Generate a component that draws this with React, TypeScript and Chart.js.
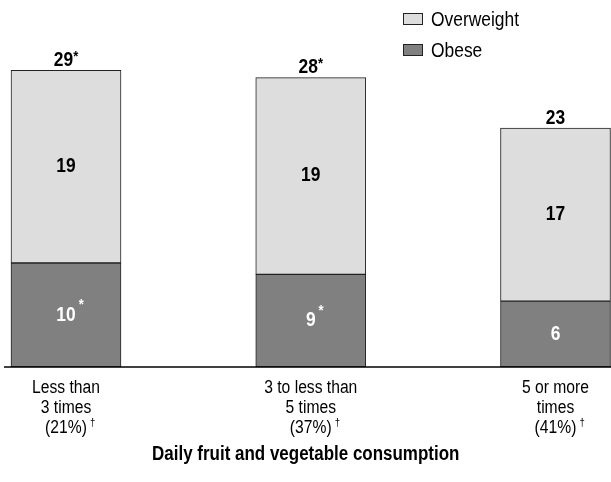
import React, { useEffect, useRef } from "react";
import { Chart, registerables } from "chart.js";

Chart.register(...registerables);

const categories = ["Less than 3 times", "3 to less than 5 times", "5 or more times"];
const tickLines = [
  ["Less than", "3 times"],
  ["3 to less than", "5 times"],
  ["5 or more", "times"],
];
const sharePct = ["(21%)", "(37%)", "(41%)"];
const obese = [10.1, 9.0, 6.4];
const overweight = [18.7, 19.1, 16.8];
const obeseLabels = ["10", "9", "6"];
const obeseMarks = ["*", "*", ""];
const overweightLabels = ["19", "19", "17"];
const totalLabels = ["29", "28", "23"];
const totalMarks = ["*", "*", ""];
const seriesNames = ["Overweight", "Obese"];
const xTitle = "Daily fruit and vegetable consumption";

const FONT = "'Liberation Sans', Arial, sans-serif";
const SX = 0.87;
const LIGHT = "#dddddd";
const DARK = "#808080";
const EDGE = "#222222";

function font(size: number, bold: boolean) {
  return `${bold ? "bold " : ""}${size}px ${FONT}`;
}
function measure(ctx: CanvasRenderingContext2D, s: string, size: number, bold: boolean) {
  ctx.save();
  ctx.font = font(size, bold);
  const w = ctx.measureText(s).width * SX;
  ctx.restore();
  return w;
}
function txt(
  ctx: CanvasRenderingContext2D,
  s: string,
  x: number,
  y: number,
  size: number,
  bold: boolean,
  align: CanvasTextAlign,
  color: string
) {
  ctx.save();
  ctx.translate(x, y);
  ctx.scale(SX, 1);
  ctx.font = font(size, bold);
  ctx.textAlign = align;
  ctx.textBaseline = "middle";
  ctx.fillStyle = color;
  ctx.fillText(s, 0, 0);
  ctx.restore();
}

const drawPlugin = {
  id: "customDraw",
  afterDatasetsDraw(chart: any) {
    const ctx = chart.ctx as CanvasRenderingContext2D;
    const x = chart.scales.x;
    const y = chart.scales.y;
    const base = y.getPixelForValue(0);
    ctx.save();
    // baseline
    ctx.strokeStyle = "#000";
    ctx.lineWidth = 1.5;
    ctx.beginPath();
    ctx.moveTo(4, base);
    ctx.lineTo(611, base);
    ctx.stroke();

    const obeseMeta = chart.getDatasetMeta(1);
    const owMeta = chart.getDatasetMeta(0);
    const VS = 20;
    for (let i = 0; i < categories.length; i++) {
      const ob = obeseMeta.data[i];
      const ow = owMeta.data[i];
      // obese value
      const oy = (ob.y + ob.base) / 2;
      txt(ctx, obeseLabels[i], ob.x, oy, VS, true, "center", "#ffffff");
      if (obeseMarks[i]) {
        const w = measure(ctx, obeseLabels[i], VS, true);
        txt(ctx, obeseMarks[i], ob.x + w / 2 + 3, oy - 10, 15, true, "left", "#ffffff");
      }
      // overweight value
      txt(ctx, overweightLabels[i], ow.x, (ow.y + ow.base) / 2, VS, true, "center", "#000000");
      // total
      const tw = measure(ctx, totalLabels[i], VS, true);
      const mw = totalMarks[i] ? measure(ctx, totalMarks[i], 15, true) : 0;
      const startX = ow.x - (tw + mw) / 2;
      txt(ctx, totalLabels[i], startX, ow.y - 10, VS, true, "left", "#000");
      if (totalMarks[i]) {
        txt(ctx, totalMarks[i], startX + tw, ow.y - 14, 15, true, "left", "#000");
      }
      // tick labels
      const cx = x.getPixelForValue(i);
      tickLines[i].forEach((line, j) => {
        txt(ctx, line, cx, base + 21 + j * 20, 18, false, "center", "#000");
      });
      const pw = measure(ctx, sharePct[i], 18, false);
      txt(ctx, sharePct[i], cx, base + 61, 18, false, "center", "#000");
      txt(ctx, "\u2020", cx + pw / 2 + 3, base + 56, 11, false, "left", "#000");
    }
    // x title
    txt(ctx, xTitle, (x.left + x.right) / 2 - 5, base + 88, 19.5, true, "center", "#000");

    // legend
    const colors = [LIGHT, DARK];
    const legendY = [19, 50];
    seriesNames.forEach((name, j) => {
      ctx.fillStyle = colors[j];
      ctx.fillRect(403, legendY[j] - 6, 20, 12);
      ctx.strokeStyle = EDGE;
      ctx.lineWidth = 1;
      ctx.strokeRect(403.5, legendY[j] - 5.5, 19, 11);
      txt(ctx, name, 431, legendY[j] + 1, 20, false, "left", "#000");
    });
    ctx.restore();
  },
};

export default function App() {
  const ref = useRef<HTMLCanvasElement | null>(null);
  useEffect(() => {
    if (!ref.current) return;
    const chart = new Chart(ref.current, {
      type: "bar",
      data: {
        labels: categories,
        datasets: [
          {
            label: seriesNames[0],
            data: overweight,
            backgroundColor: LIGHT,
            borderColor: EDGE,
            borderWidth: 1,
            borderSkipped: false,
            barThickness: 110,
            stack: "s",
            order: 1,
            clip: false as any,
          },
          {
            label: seriesNames[1],
            data: obese,
            backgroundColor: DARK,
            borderColor: EDGE,
            borderWidth: 1,
            borderSkipped: false,
            barThickness: 110,
            stack: "s",
            order: 0,
            clip: false as any,
          },
        ],
      },
      options: {
        responsive: false,
        animation: false,
        layout: { padding: { top: 58, bottom: 115, left: 66, right: 55.5 } },
        plugins: { legend: { display: false }, tooltip: { enabled: false }, title: { display: false } },
        scales: {
          x: { type: "category", offset: false, stacked: true, display: false },
          y: { stacked: true, min: 0, max: 30, display: false },
        },
      },
      plugins: [drawPlugin],
    });
    return () => chart.destroy();
  }, []);
  return (
    <div style={{ position: "absolute", left: 0, top: 0, width: 611, height: 482, background: "#fff" }}>
      <canvas ref={ref} width={611} height={482} />
    </div>
  );
}
